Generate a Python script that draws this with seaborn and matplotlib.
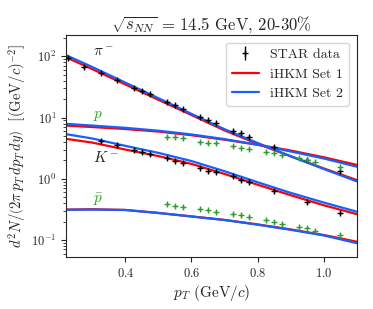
import numpy as np
import pandas as pd
import seaborn as sns
import matplotlib.pyplot as plt
from matplotlib.lines import Line2D

# STAR data points
pt_pi = [0.225, 0.275, 0.325, 0.375, 0.425, 0.45, 0.475, 0.525, 0.55, 0.575,
         0.625, 0.65, 0.675, 0.725, 0.75, 0.775, 0.85, 0.95, 1.05]
y_pi = [93.5, 68, 53, 41.3, 30.9, 27.6, 24.1, 17.8, 16.0, 13.7,
        10.4, 9.2, 8.3, 6.1, 5.6, 4.9, 3.36, 2.04, 1.35]

pt_k = [0.325, 0.375, 0.425, 0.45, 0.475, 0.525, 0.55, 0.575, 0.625, 0.65,
        0.675, 0.725, 0.75, 0.775, 0.85, 0.95, 1.05]
y_k = [4.2, 3.58, 2.97, 2.72, 2.55, 2.17, 1.98, 1.84, 1.52, 1.36,
       1.31, 1.11, 0.96, 0.89, 0.64, 0.42, 0.28]

pt_p = [0.525, 0.55, 0.575, 0.625, 0.65, 0.675, 0.725, 0.75, 0.775,
        0.825, 0.85, 0.875, 0.925, 0.95, 0.975, 1.05]
y_p = [4.78, 4.78, 4.7, 4.05, 3.9, 3.82, 3.45, 3.24, 3.05,
       2.78, 2.62, 2.46, 2.17, 2.04, 1.87, 1.58]
y_pbar = [0.385, 0.365, 0.351, 0.319, 0.310, 0.288, 0.264, 0.257, 0.236,
          0.213, 0.198, 0.185, 0.162, 0.156, 0.142, 0.121]

# iHKM model curves
pt_model = [0.22, 0.3, 0.4, 0.5, 0.6, 0.7, 0.8, 0.9, 1.0, 1.1]
pi_set1 = [96.6, 61.7, 34.7, 19.5, 11.0, 6.17, 3.72, 2.34, 1.48, 0.955]
pi_set2 = [104.7, 66.8, 37.2, 20.7, 11.5, 6.46, 3.85, 2.34, 1.45, 0.91]
k_set1 = [4.49, 3.9, 3.0, 2.35, 1.75, 1.2, 0.8, 0.54, 0.37, 0.265]
k_set2 = [5.36, 4.55, 3.45, 2.65, 1.95, 1.33, 0.88, 0.59, 0.41, 0.291]
p_set1 = [7.4, 7.0, 6.5, 5.9, 5.15, 4.35, 3.6, 2.9, 2.25, 1.69]
p_set2 = [7.9, 7.4, 6.8, 6.1, 5.3, 4.45, 3.6, 2.8, 2.15, 1.58]
pbar_set1 = [0.314, 0.318, 0.31, 0.277, 0.243, 0.213, 0.18, 0.149, 0.121, 0.094]
pbar_set2 = [0.312, 0.314, 0.309, 0.276, 0.242, 0.212, 0.178, 0.147, 0.119, 0.089]

rows = []
for species, s1, s2 in [('pi', pi_set1, pi_set2), ('K', k_set1, k_set2),
                        ('p', p_set1, p_set2), ('pbar', pbar_set1, pbar_set2)]:
    for pt, a, b in zip(pt_model, s1, s2):
        rows.append({'pt': pt, 'val': a, 'set': 'iHKM Set 1', 'species': species})
        rows.append({'pt': pt, 'val': b, 'set': 'iHKM Set 2', 'species': species})
model = pd.DataFrame(rows)

sns.set_style('ticks')
plt.rcParams['font.family'] = 'serif'
plt.rcParams['font.serif'] = ['cmr10', 'DejaVu Serif']
plt.rcParams['mathtext.fontset'] = 'cm'
plt.rcParams['axes.formatter.use_mathtext'] = True
plt.rcParams['axes.unicode_minus'] = False

fig = plt.figure(figsize=(3.73, 3.09), dpi=100)
ax = fig.add_axes([0.177, 0.167, 0.779, 0.72])

red = '#ff0000'
blue = '#1560ff'
green = '#2ca02c'

for sp in ['pi', 'K', 'p', 'pbar']:
    sub = model[model['species'] == sp]
    sns.lineplot(data=sub[sub['set'] == 'iHKM Set 1'], x='pt', y='val', color=red,
                 lw=1.6, ax=ax, legend=False)
    sns.lineplot(data=sub[sub['set'] == 'iHKM Set 2'], x='pt', y='val', color=blue,
                 lw=1.6, ax=ax, legend=False)

err_kw = dict(fmt='+', ms=4, mew=1.0, elinewidth=1.0, capsize=0, zorder=5)
ax.errorbar(pt_pi, y_pi, yerr=np.array(y_pi) * 0.07, color='k', **err_kw)
ax.errorbar(pt_k, y_k, yerr=np.array(y_k) * 0.07, color='k', **err_kw)
ax.errorbar(pt_p, y_p, yerr=np.array(y_p) * 0.07, color=green, **err_kw)
ax.errorbar(pt_p, y_pbar, yerr=np.array(y_pbar) * 0.07, color=green, **err_kw)

ax.set_yscale('log')
ax.set_xlim(0.22, 1.10)
ax.set_ylim(0.052, 224)
ax.set_xticks([0.4, 0.6, 0.8, 1.0])

ax.text(0.302, 118, r'$\pi^-$', fontsize=11, va='center')
ax.text(0.302, 10.7, r'$p$', fontsize=11, va='center', color=green)
ax.text(0.302, 2.19, r'$K^-$', fontsize=11, va='center')
ax.text(0.302, 0.452, r'$\bar{p}$', fontsize=11, va='center', color=green)

ax.set_title(r'$\sqrt{s_{NN}}$ = 14.5 GeV, 20-30%', fontsize=12, pad=3)
ax.set_xlabel(r'$p_T$ (GeV/$c$)', fontsize=11, labelpad=2)
ax.set_ylabel(r'$d^2N/\left(2\pi\, p_T\, dp_T\, dy\right)$  $\left[(\mathrm{GeV}/c)^{-2}\right]$',
              fontsize=10.5, labelpad=2)
ax.tick_params(labelsize=9)

eb = ax.errorbar([], [], yerr=[], color='k', fmt='+', ms=4, elinewidth=1.0)
ax.legend([eb, Line2D([], [], color=red, lw=1.6), Line2D([], [], color=blue, lw=1.6)],
          ['STAR data', 'iHKM Set 1', 'iHKM Set 2'],
          loc='upper right', fontsize=10, handlelength=2.0, borderaxespad=0.55)

fig.savefig('out.png', dpi=100)
